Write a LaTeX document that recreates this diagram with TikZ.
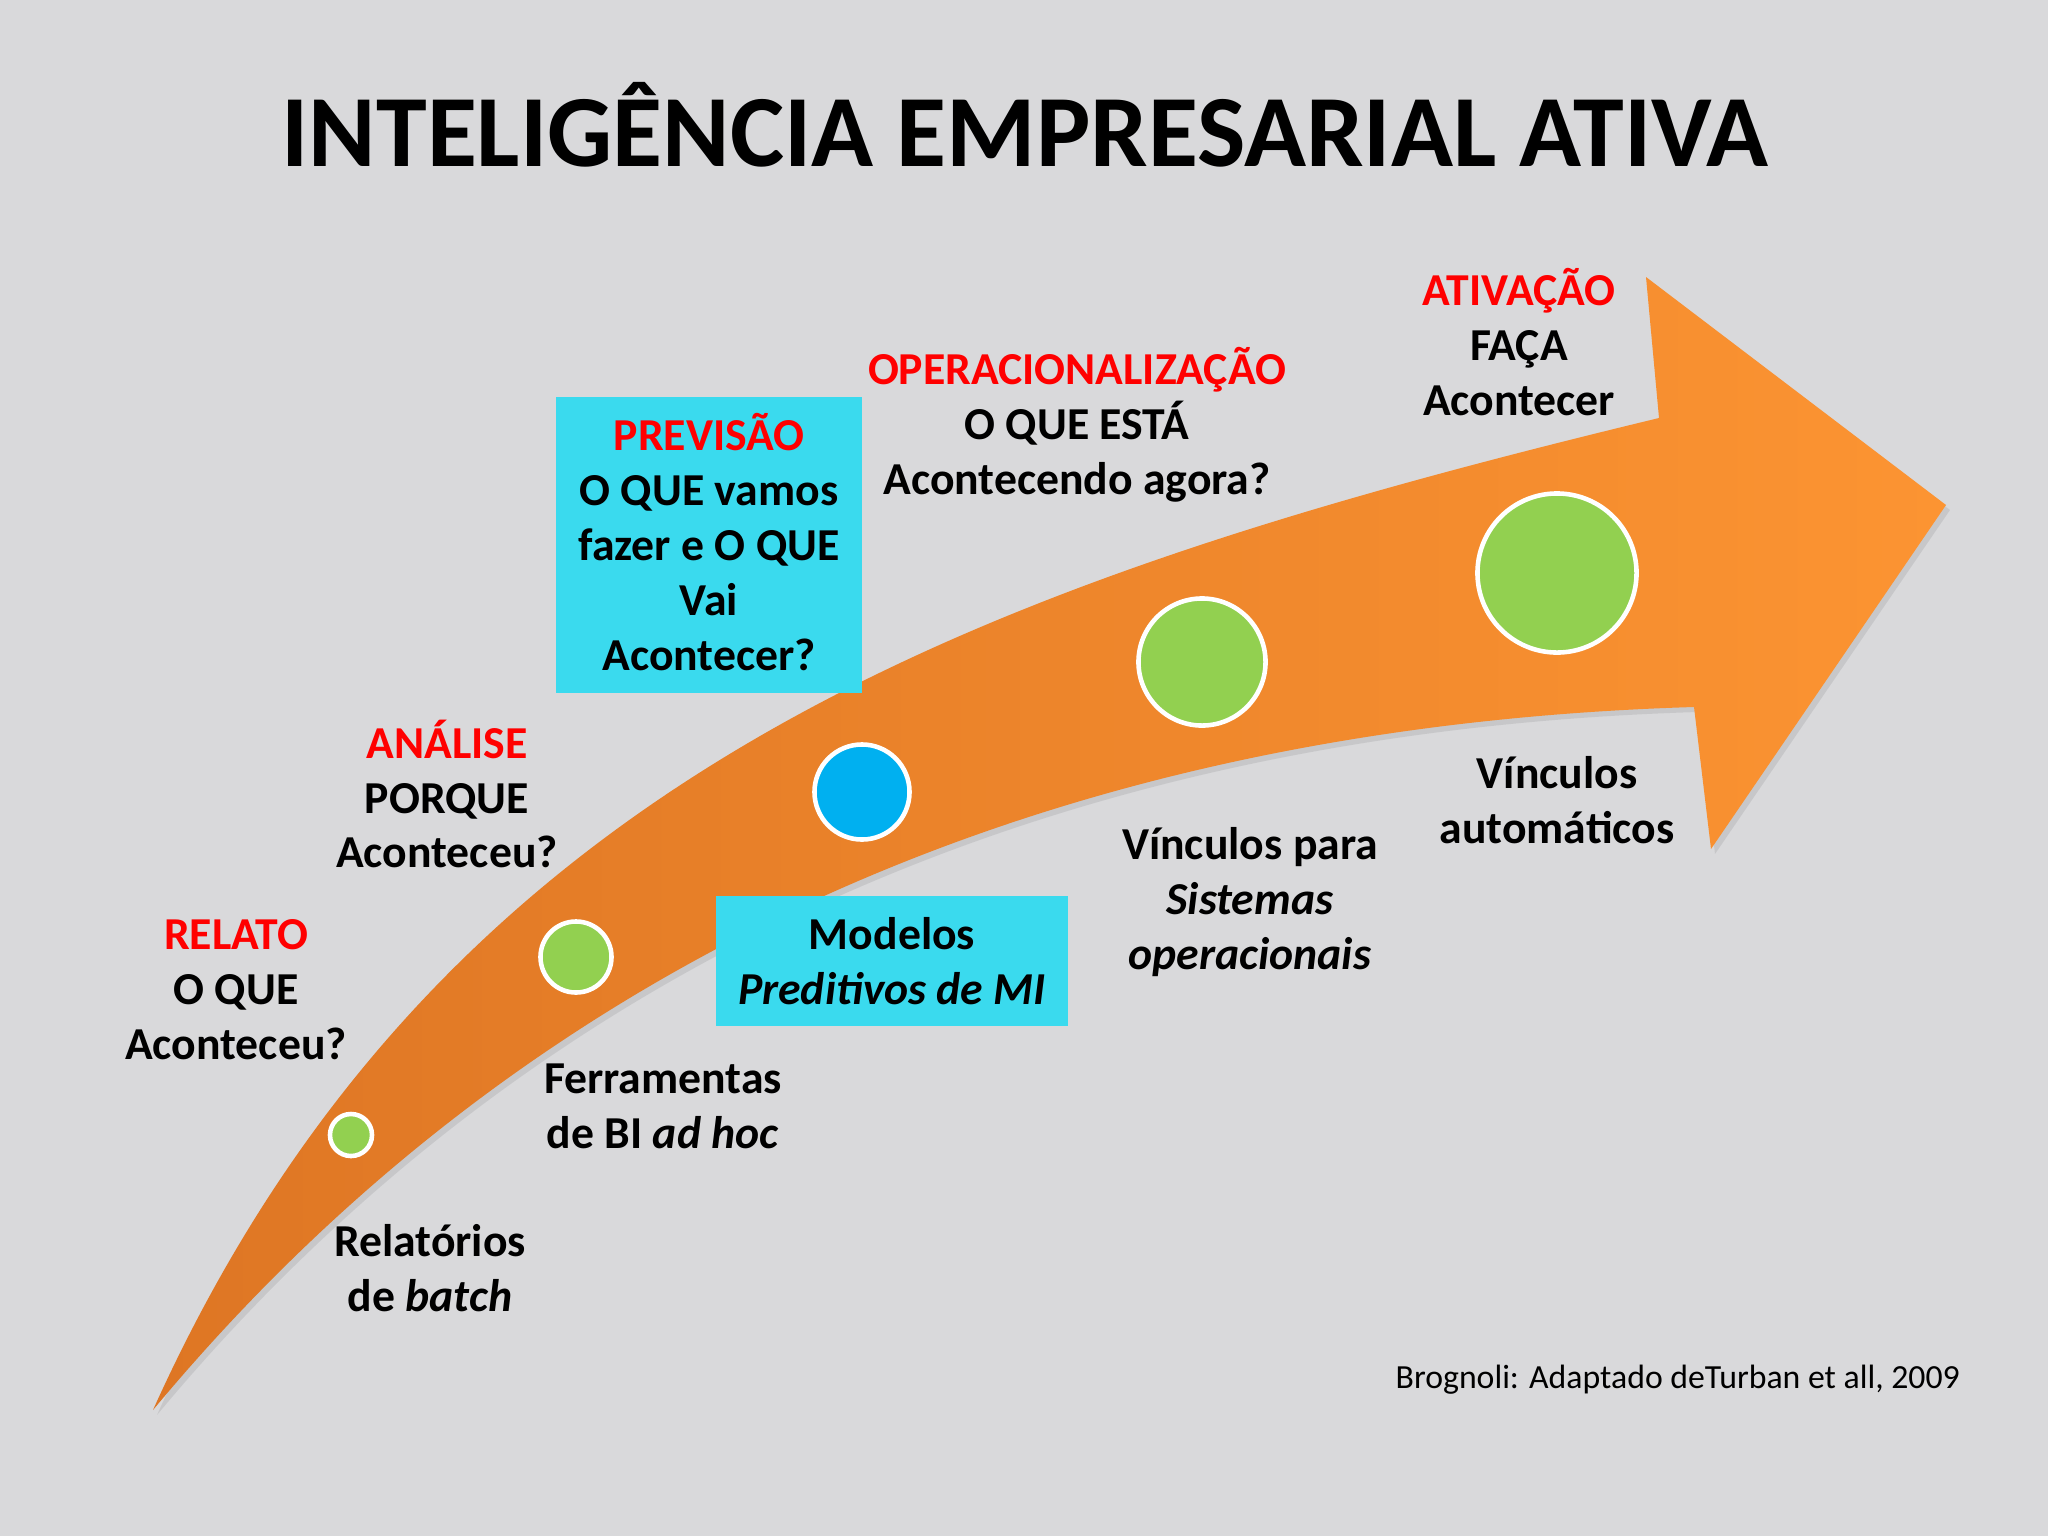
\documentclass[tikz,border=0pt]{standalone}
\usepackage{fontspec}
\setmainfont{Carlito}
\definecolor{bg}{RGB}{217,217,219}
\definecolor{hdred}{RGB}{255,0,0}
\definecolor{boxcyan}{RGB}{58,218,238}
\definecolor{dotgreen}{RGB}{146,208,80}
\definecolor{dotblue}{RGB}{0,176,240}
\definecolor{arrowdark}{RGB}{222,118,36}
\definecolor{arrowlight}{RGB}{252,148,50}
\tikzset{
  lbl/.style={align=center, font=\fontsize{13}{15.6}\selectfont\bfseries, text=black, inner sep=0pt},
  cbox/.style={lbl, fill=boxcyan},
  dot/.style={circle, draw=white, line width=1.3pt, inner sep=0pt},
}
\begin{document}
\begin{tikzpicture}[x=0.01cm,y=-0.01cm]
\fill[bg] (0,0) rectangle (2048,1536);
\useasboundingbox (0,0) rectangle (2048,1536);

% title
\node[anchor=base, font=\fontsize{29.1}{35}\selectfont\bfseries, inner sep=0pt] (title) at (1025,166) {INTELIGÊNCIA EMPRESARIAL ATIVA};

% arrow shadow
\fill[black, opacity=0.08, shift={(4,5)}]
  (153,1410) .. controls (440,773) and (980,582) .. (1659,418)
  -- (1646,277) -- (1946,505) -- (1711,849) -- (1694,707)
  .. controls (1194,722) and (601,871) .. (153,1410) -- cycle;
% arrow
\shade[left color=arrowdark, right color=arrowlight]
  (153,1410) .. controls (440,773) and (980,582) .. (1659,418)
  -- (1646,277) -- (1946,505) -- (1711,849) -- (1694,707)
  .. controls (1194,722) and (601,871) .. (153,1410) -- cycle;

% dots
\node[dot, fill=dotgreen, minimum size=0.42cm] (d1) at (351,1135) {};
\node[dot, fill=dotgreen, minimum size=0.71cm] (d2) at (576,957) {};
\node[dot, fill=dotblue, minimum size=0.95cm] (d3) at (862,792) {};
\node[dot, fill=dotgreen, minimum size=1.27cm] (d4) at (1202,662) {};
\node[dot, fill=dotgreen, minimum size=1.59cm] (d5) at (1557,573) {};

% boxes
\node[cbox, minimum width=3.06cm, minimum height=2.95cm] (prev) at (709,545) {};
\node[lbl] (prevtxt) at (709,542)
  {\textcolor{hdred}{PREVISÃO}\\O QUE vamos\\fazer e O QUE\\Vai\\Acontecer?};
\node[cbox, minimum width=3.51cm, minimum height=1.29cm] (mod) at (892,961)
  {Modelos\\\textit{Preditivos de MI}};

% labels
\node[lbl] (ativ) at (1519,342) {\textcolor{hdred}{ATIVAÇÃO}\\FAÇA\\Acontecer};
\node[lbl] (oper) at (1077,425) {\textcolor{hdred}{OPERACIONALIZAÇÃO}\\O QUE ESTÁ\\Acontecendo agora?};
\node[lbl] (anal) at (447,794) {\textcolor{hdred}{ANÁLISE}\\PORQUE\\Aconteceu?};
\node[lbl] (rel) at (236,990) {\textcolor{hdred}{RELATO}\\O QUE\\Aconteceu?};
\node[lbl] (ferr) at (663,1106) {Ferramentas\\de BI \textit{ad hoc}};
\node[lbl] (relb) at (430,1268) {Relatórios\\de \textit{batch}};
\node[lbl] (vpara) at (1250,902) {Vínculos para\\\textit{Sistemas}\\\textit{operacionais}};
\node[lbl] (vauto) at (1557,800) {Vínculos\\automáticos};

% reference
\node[anchor=west, inner sep=0pt, font=\fontsize{9.6}{11}\selectfont] (ref) at (1395,1380) {Brognoli: Adaptado deTurban et all, 2009};
\end{tikzpicture}
\end{document}
